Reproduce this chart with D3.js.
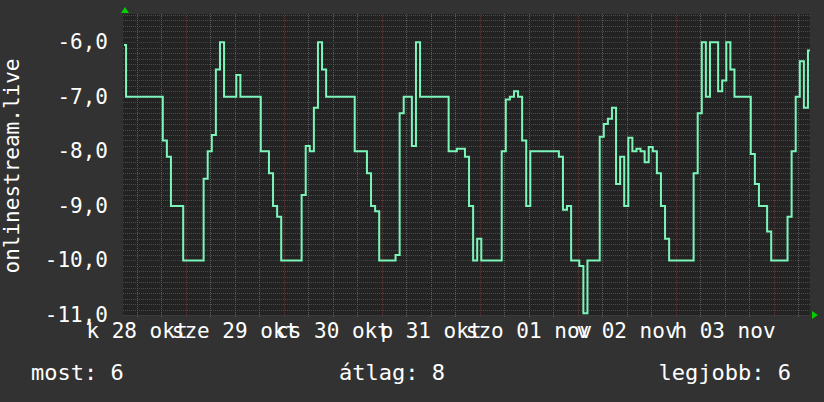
<!doctype html>
<html>

<head>
    <meta charset="utf-8">
    <script src="https://d3js.org/d3.v7.min.js"></script>
    <style>
        body {
            margin: 0;
            background: #323232;
        }

        text {
            font-family: 'DejaVu Sans Mono', monospace;
            fill: #fff;
        }
    </style>
</head>

<body>
    <div id="graph"></div>
    <script>
        // hourly samples starting 28 okt 08:49 (one value per hour, 7 days)
        const startTime = new Date(Date.UTC(2025, 9, 28, 8, 49))
        const values = [
            -6.05, -7, -7, -7, -7, -7, -7, -7, -7, -7, -7.8, -8.1, -9, -9, -9, -10, -10, -10, -10, -10, -8.5, -8.0, -7.7, -6.5,
            -6.0, -7, -7, -7, -6.6, -7, -7, -7, -7, -7, -8, -8, -8.4, -9, -9.2, -10, -10, -10, -10, -10, -8.8, -7.9, -8.0, -7.2,
            -6.0, -6.5, -7, -7, -7, -7, -7, -7, -7, -8, -8, -8, -8.4, -9, -9.1, -10, -10, -10, -10, -9.9, -7.3, -7, -7, -7.9,
            -6.0, -7, -7, -7, -7, -7, -7, -7, -8, -8, -7.95, -7.95, -8.1, -9, -10, -9.6, -10, -10, -10, -10, -10, -8.0, -7.05, -7,
            -6.9, -7, -7.8, -9.0, -8, -8, -8, -8, -8, -8, -8, -8.1, -9.07, -9.0, -10, -10, -10.1, -10.97, -10, -10, -10, -7.73, -7.5, -7.4,
            -7.2, -8.6, -8.1, -9.0, -7.75, -8.0, -7.95, -8.0, -8.2, -7.92, -8.0, -8.4, -9, -9.6, -10, -10, -10, -10, -10, -10, -8.4, -7.3, -6.0, -7.0,
            -6.0, -6.0, -6.9, -6.7, -6.0, -6.5, -7, -7, -7, -7, -8.05, -8.6, -9, -9, -9.47, -10, -10, -10, -10, -9.2, -8.0, -7.0, -6.35, -7.2, -6.15
        ]

        const yTickValues = [-11, -10, -9, -8, -7, -6]
        const yTickLabels = ['-11,0', '-10,0', '-9,0', '-8,0', '-7,0', '-6,0']
        const dayDates = ['2025-10-28', '2025-10-29', '2025-10-30', '2025-10-31', '2025-11-01', '2025-11-02', '2025-11-03']
        const dayLabels = ['k 28 okt', 'sze 29 okt', 'cs 30 okt', 'p 31 okt', 'szo 01 nov', 'v 02 nov', 'h 03 nov']
        const yTitle = 'onlinestream.live'
        const legendLabels = ['most: 6', 'átlag: 8', 'legjobb: 6']

        const W = 824, H = 402
        const plot = { left: 123, right: 810, top: 14, bottom: 315 }

        const endTime = new Date(startTime.getTime() + 7 * 86400e3)
        const data = values.map((v, i) => ({ t: new Date(startTime.getTime() + i * 3600e3), v: v }))

        const x = d3.scaleUtc()
            .domain([startTime, endTime])
            .range([124, plot.right])

        const y = d3.scaleLinear()
            .domain([-11, -5.5])
            .range([plot.bottom, 15])

        const svg = d3.select('#graph')
            .append('svg')
            .attr('width', W)
            .attr('height', H)

        svg.append('rect')
            .attr('width', W)
            .attr('height', H)
            .attr('fill', '#323232')

        svg.append('rect')
            .attr('x', plot.left)
            .attr('y', plot.top)
            .attr('width', plot.right - plot.left)
            .attr('height', plot.bottom - plot.top)
            .attr('fill', '#232323')

        const grid = svg.append('g')
        const px = v => Math.round(v) + 0.5

        // minor horizontal grid every 0.1
        grid.selectAll('.hmin')
            .data(y.ticks(55).filter(d => Math.abs(d - Math.round(d)) > 1e-6))
            .enter()
            .append('line')
            .attr('x1', plot.left).attr('x2', plot.right)
            .attr('y1', d => px(y(d))).attr('y2', d => px(y(d)))
            .attr('stroke', '#4a4a4a')
            .attr('stroke-dasharray', '1,1')

        // minor vertical grid every 6 hours
        grid.selectAll('.vmin')
            .data(d3.utcHour.every(6).range(startTime, endTime))
            .enter()
            .append('line')
            .attr('x1', d => px(x(d))).attr('x2', d => px(x(d)))
            .attr('y1', plot.top).attr('y2', plot.bottom + 3)
            .attr('stroke', '#5c5c5c')
            .attr('stroke-dasharray', '1,1')

        // major grid
        grid.selectAll('.hmaj')
            .data(yTickValues)
            .enter()
            .append('line')
            .attr('x1', plot.left).attr('x2', plot.right)
            .attr('y1', d => px(y(d))).attr('y2', d => px(y(d)))
            .attr('stroke', '#643232')
            .attr('stroke-dasharray', '1,1')

        grid.selectAll('.vmaj')
            .data(d3.utcDay.range(startTime, endTime))
            .enter()
            .append('line')
            .attr('x1', d => px(x(d))).attr('x2', d => px(x(d)))
            .attr('y1', plot.top).attr('y2', plot.bottom + 3)
            .attr('stroke', '#643232')
            .attr('stroke-dasharray', '1,1')

        // the series
        const line = d3.line()
            .x(d => x(d.t))
            .y(d => y(d.v))
            .curve(d3.curveStep)

        svg.append('path')
            .datum(data)
            .attr('d', line)
            .attr('fill', 'none')
            .attr('stroke', '#7cf5b9')
            .attr('stroke-width', 2)

        // arrows
        svg.append('path')
            .attr('d', `M${plot.left - 2},13 L${plot.left + 2},7 L${plot.left + 6},13 Z`)
            .attr('fill', '#00d000')
        svg.append('path')
            .attr('d', `M${plot.right + 2},${plot.bottom - 4} L${plot.right + 8},${plot.bottom} L${plot.right + 2},${plot.bottom + 4} Z`)
            .attr('fill', '#00d000')

        // y labels
        svg.selectAll('.ylab')
            .data(yTickValues)
            .enter()
            .append('text')
            .attr('x', 108)
            .attr('y', d => y(d) + 7)
            .attr('text-anchor', 'end')
            .style('font-size', '21px')
            .text((d, i) => yTickLabels[i])

        // x labels, centred at noon of each day
        svg.selectAll('.xlab')
            .data(dayDates)
            .enter()
            .append('text')
            .attr('x', d => x(new Date(d + 'T12:00:00Z')))
            .attr('y', 338)
            .attr('text-anchor', 'middle')
            .style('font-size', '21px')
            .text((d, i) => dayLabels[i])

        svg.append('text')
            .attr('transform', 'translate(19,166) rotate(-90)')
            .attr('text-anchor', 'middle')
            .style('font-size', '21px')
            .text(yTitle)

        // legend
        const legendPos = [{ x: 31, a: 'start' }, { x: 392, a: 'middle' }, { x: 791, a: 'end' }]
        svg.selectAll('.leg')
            .data(legendLabels)
            .enter()
            .append('text')
            .attr('x', (d, i) => legendPos[i].x)
            .attr('y', 380)
            .attr('text-anchor', (d, i) => legendPos[i].a)
            .style('font-size', '22px')
            .text(d => d)
    </script>
</body>

</html>
